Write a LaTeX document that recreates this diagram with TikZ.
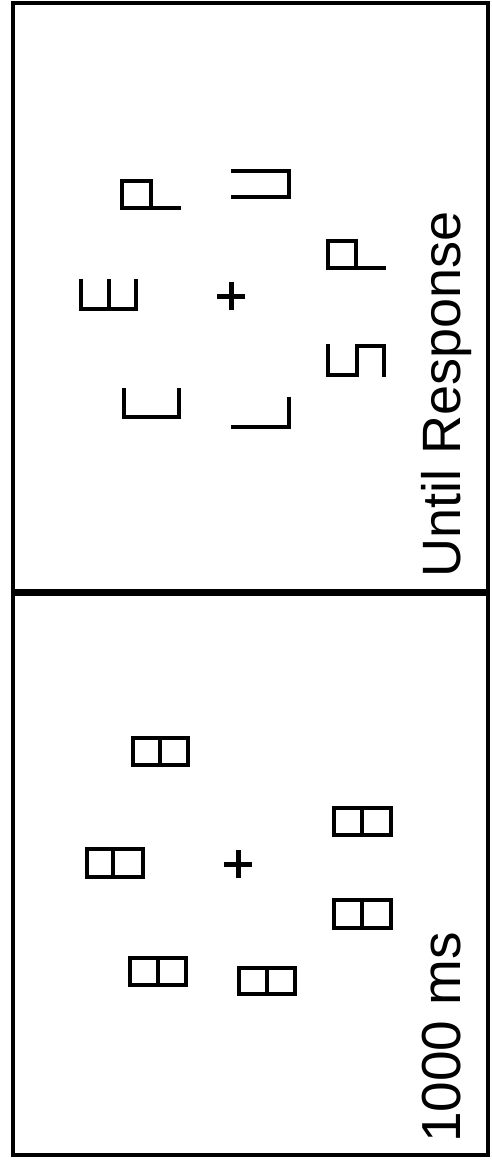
\documentclass[tikz,border=0pt]{standalone}
\usepackage{fontspec}
\setmainfont{Liberation Sans}
\begin{document}
\begin{tikzpicture}[x=1pt,y=-1pt,
  glyph/.style={line width=4pt, line cap=rect, line join=miter},
  stim/.style={line width=4.6pt, line join=miter},
  fix/.style={line width=5pt},
  frame/.style={line width=3.5pt},
  lbl/.style={font=\fontsize{54}{60}\selectfont, rotate=90, anchor=base west, inner sep=0pt}]
\useasboundingbox (0,0) rectangle (491,1161);
% frame
\draw[frame] (13,3) rectangle (488,1155);
\draw[line width=7pt] (13,592) -- (488,592);
% ---- top panel: Until Response ----
\draw[glyph] (179,208) -- (122,208) -- (122,181) -- (151,181) -- (151,208);
\draw[glyph] (233,171) -- (289,171) -- (289,197) -- (233,197);
\draw[glyph] (80.5,281) -- (80.5,309) -- (136,309) -- (136,281);
\draw[glyph] (108.5,281) -- (108.5,309);
\draw[glyph] (384,268) -- (328,268) -- (328,241) -- (356,241) -- (356,268);
\draw[glyph] (328,346) -- (328,375) -- (357,375) -- (357,346) -- (384,346) -- (384,375);
\draw[glyph] (124,390) -- (124,417) -- (179,417) -- (179,390);
\draw[glyph] (233,427) -- (289,427) -- (289,399);
\draw[fix] (217,296) -- (245,296) (231,282) -- (231,310);
\node[lbl] (until) at (460,578) {Until Response};
% ---- bottom panel: 1000 ms ----
\draw[stim] (133,738) rectangle (188,765) (160,738) -- (160,765);
\draw[stim] (87,849) rectangle (143,877) (113,849) -- (113,877);
\draw[stim] (130,958) rectangle (186,985) (158,958) -- (158,985);
\draw[stim] (239,968) rectangle (295,994) (267,968) -- (267,994);
\draw[stim] (334,808) rectangle (391,835) (362,808) -- (362,835);
\draw[stim] (334,900) rectangle (391,928) (362,900) -- (362,928);
\draw[fix] (224,864) -- (252,864) (238,850) -- (238,878);
\node[lbl, font=\fontsize{55}{60}\selectfont] (dur) at (460,1143) {1000 ms};
\end{tikzpicture}
\end{document}
